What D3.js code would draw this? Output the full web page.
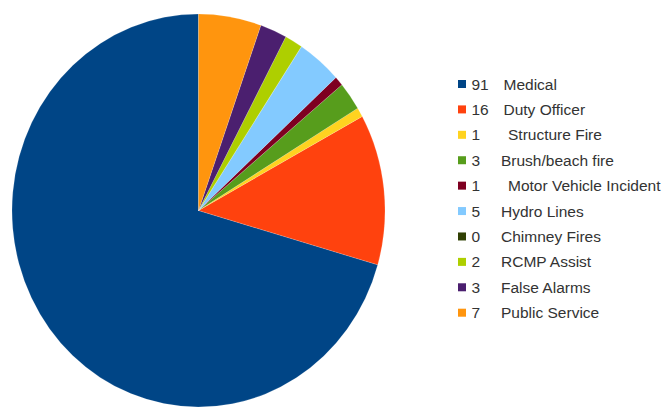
<!DOCTYPE html>
<html>
<head>
<meta charset="utf-8">
<script src="https://cdn.jsdelivr.net/npm/d3@7"></script>
<style>
  body { margin: 0; background: #fff; }
</style>
</head>
<body>
<svg id="chart"></svg>
<script>
const categories = ["Medical", "Duty Officer", "Structure Fire", "Brush/beach fire",
    "Motor Vehicle Incident", "Hydro Lines", "Chimney Fires", "RCMP Assist",
    "False Alarms", "Public Service"];
const counts = [91, 16, 1, 3, 1, 5, 0, 2, 3, 7];
const colours = ["#004586", "#ff420e", "#ffd320", "#579d1c", "#7e0021",
    "#83caff", "#314004", "#aecf00", "#4b1f6f", "#ff950e"];

const w = 665, h = 408;
const cx = 198.5, cy = 210.5, r = 186.5, stretch = 196.5 / 186.5;

const svg = d3.select("#chart")
    .attr("width", w)
    .attr("height", h);

const data = categories.map((c, i) => ({ name: c, value: counts[i], colour: colours[i] }));

// slices run counter-clockwise from 12 o'clock
const pie = d3.pie()
    .sort(null)
    .value(d => d.value)
    .startAngle(0)
    .endAngle(-2 * Math.PI);

const arc = d3.arc().innerRadius(0).outerRadius(r);

const g = svg.append("g")
    .attr("transform", `translate(${cx},${cy}) scale(1,${stretch})`);

g.selectAll("path")
    .data(pie(data))
    .enter()
    .append("path")
    .attr("d", arc)
    .attr("fill", d => d.data.colour)
    .attr("stroke", "#fff")
    .attr("stroke-opacity", 0.25)
    .attr("stroke-width", 0.6);

// legend
const legend = svg.append("g");
const rowY = d3.scaleLinear().domain([0, categories.length - 1]).range([84, 312.7]);

const rows = legend.selectAll("g")
    .data(data)
    .enter()
    .append("g")
    .attr("transform", (d, i) => `translate(0,${rowY(i)})`);

rows.append("rect")
    .attr("x", 458)
    .attr("y", -4)
    .attr("width", 8)
    .attr("height", 8)
    .attr("fill", d => d.colour);

rows.append("text")
    .text(d => d.value)
    .attr("x", 471.5)
    .attr("dy", "0.36em")
    .attr("font-size", "15.5px")
    .attr("font-family", "Liberation Sans, Arial, sans-serif")
    .attr("fill", "#333");

rows.append("text")
    .text(d => d.name)
    .attr("x", d => d.value >= 10 ? 503.5 : (d.value === 1 ? 508 : 501))
    .attr("dy", "0.36em")
    .attr("font-size", "15.5px")
    .attr("font-family", "Liberation Sans, Arial, sans-serif")
    .attr("fill", "#333");
</script>
</body>
</html>
